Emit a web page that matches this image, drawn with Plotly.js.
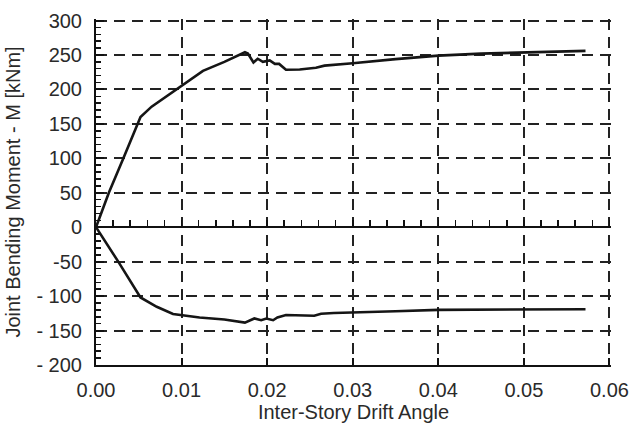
<!DOCTYPE html>
<html>
<head>
<meta charset="utf-8">
<script src="https://cdn.plot.ly/plotly-3.0.1.min.js"></script>
<style>html,body{margin:0;padding:0;background:#fff;}#chart{width:629px;height:429px;}</style>
</head>
<body>
<div id="chart"></div>
<script>
// Positive (upper) envelope
const driftPos = [0, 0.0015, 0.0032, 0.0052, 0.0065, 0.0098, 0.0125, 0.0150, 0.0174, 0.01775, 0.0184, 0.0189, 0.0195, 0.0203, 0.0209, 0.0214, 0.0222, 0.0238, 0.0257, 0.0267, 0.0278, 0.0300, 0.0350, 0.0400, 0.0450, 0.0500, 0.0572];
const momentPos = [0, 50, 100, 160, 175, 204, 227, 240, 254, 252, 239, 244.5, 240, 242, 237, 237, 228.5, 229, 231.5, 234.5, 236, 238, 244, 249, 252, 254, 256];
// Negative (lower) envelope
const driftNeg = [0, 0.0026, 0.0052, 0.0071, 0.0090, 0.0100, 0.0121, 0.0150, 0.0174, 0.0185, 0.0193, 0.0199, 0.0207, 0.0212, 0.0222, 0.0255, 0.0263, 0.0278, 0.0300, 0.0350, 0.0400, 0.0450, 0.0500, 0.0572];
const momentNeg = [0, -50, -102, -115.5, -126, -127.5, -131, -134, -138.5, -132.5, -135, -132.5, -135, -131, -127.5, -128.5, -125.5, -124.5, -124, -122, -120, -119.5, -119.5, -119];
// Tick labels
const xTickVals = [0, 0.01, 0.02, 0.03, 0.04, 0.05, 0.06];
const xTickText = ["0.00", "0.01", "0.02", "0.03", "0.04", "0.05", "0.06"];
const yTickVals = [-200, -150, -100, -50, 0, 50, 100, 150, 200, 250, 300];
const yTickText = ["- 200", "- 150", "- 100", "-50", "0", "50", "100", "150", "200", "250", "300"];

const lineStyle = {color: '#151515', width: 2.6};
const traces = [
  {x: driftPos, y: momentPos, type: 'scatter', mode: 'lines', line: lineStyle, xaxis: 'x', yaxis: 'y', hoverinfo: 'skip'},
  {x: driftNeg, y: momentNeg, type: 'scatter', mode: 'lines', line: lineStyle, xaxis: 'x2', yaxis: 'y', hoverinfo: 'skip'}
];

const fontFam = 'Liberation Sans, Arial, Helvetica, sans-serif';
const gridCol = '#222';
const txtCol = '#2a2a2a';
const xRange = [0, 0.06018];
const yRange = [-200, 302.2];
const layout = {
  width: 629, height: 429,
  margin: {l: 96, r: 18, t: 19, b: 64},
  paper_bgcolor: '#fff', plot_bgcolor: '#fff',
  showlegend: false,
  font: {family: fontFam, color: txtCol, size: 20},
  xaxis: {
    range: xRange, tickvals: xTickVals, ticktext: xTickText,
    showgrid: true, gridcolor: gridCol, gridwidth: 2, griddash: '11px,7px',
    showline: true, linecolor: '#111', linewidth: 2, mirror: false,
    ticks: 'inside', ticklen: 7, tickwidth: 2, tickcolor: '#111',
    zeroline: false, ticklabelstandoff: 6, ticklabeloverflow: 'allow',
    tickfont: {size: 20, color: txtCol},
    title: {text: 'Inter-Story Drift Angle', font: {size: 20, color: txtCol}, standoff: 4}
  },
  xaxis2: {
    range: xRange, overlaying: 'x', anchor: 'free', position: 400 / (yRange[1] - yRange[0]) * 0 + (0 - yRange[0]) / (yRange[1] - yRange[0]),
    tickvals: xTickVals, showticklabels: false, showgrid: false, zeroline: false,
    showline: true, linecolor: '#111', linewidth: 2,
    ticks: 'inside', ticklen: 6, tickwidth: 1.6, tickcolor: '#111',
    minor: {dtick: 0.002, ticks: 'inside', ticklen: 6, tickwidth: 1.6, tickcolor: '#111', showgrid: false}
  },
  yaxis: {
    range: yRange, tickvals: yTickVals, ticktext: yTickText,
    showgrid: true, gridcolor: gridCol, gridwidth: 2, griddash: '11px,7px',
    showline: true, linecolor: '#111', linewidth: 2, mirror: false,
    ticks: 'inside', ticklen: 8, tickwidth: 2, tickcolor: '#111',
    minor: {dtick: 10, tick0: 0, ticks: 'inside', ticklen: 5, tickwidth: 1.5, tickcolor: '#111', showgrid: false},
    zeroline: false, ticklabelstandoff: 8,
    tickfont: {size: 20, color: txtCol},
    title: {text: 'Joint Bending Moment - M [kNm]', font: {size: 20, color: txtCol}, standoff: 10}
  }
};
Plotly.newPlot('chart', traces, layout, {staticPlot: true, displayModeBar: false});
</script>
</body>
</html>
